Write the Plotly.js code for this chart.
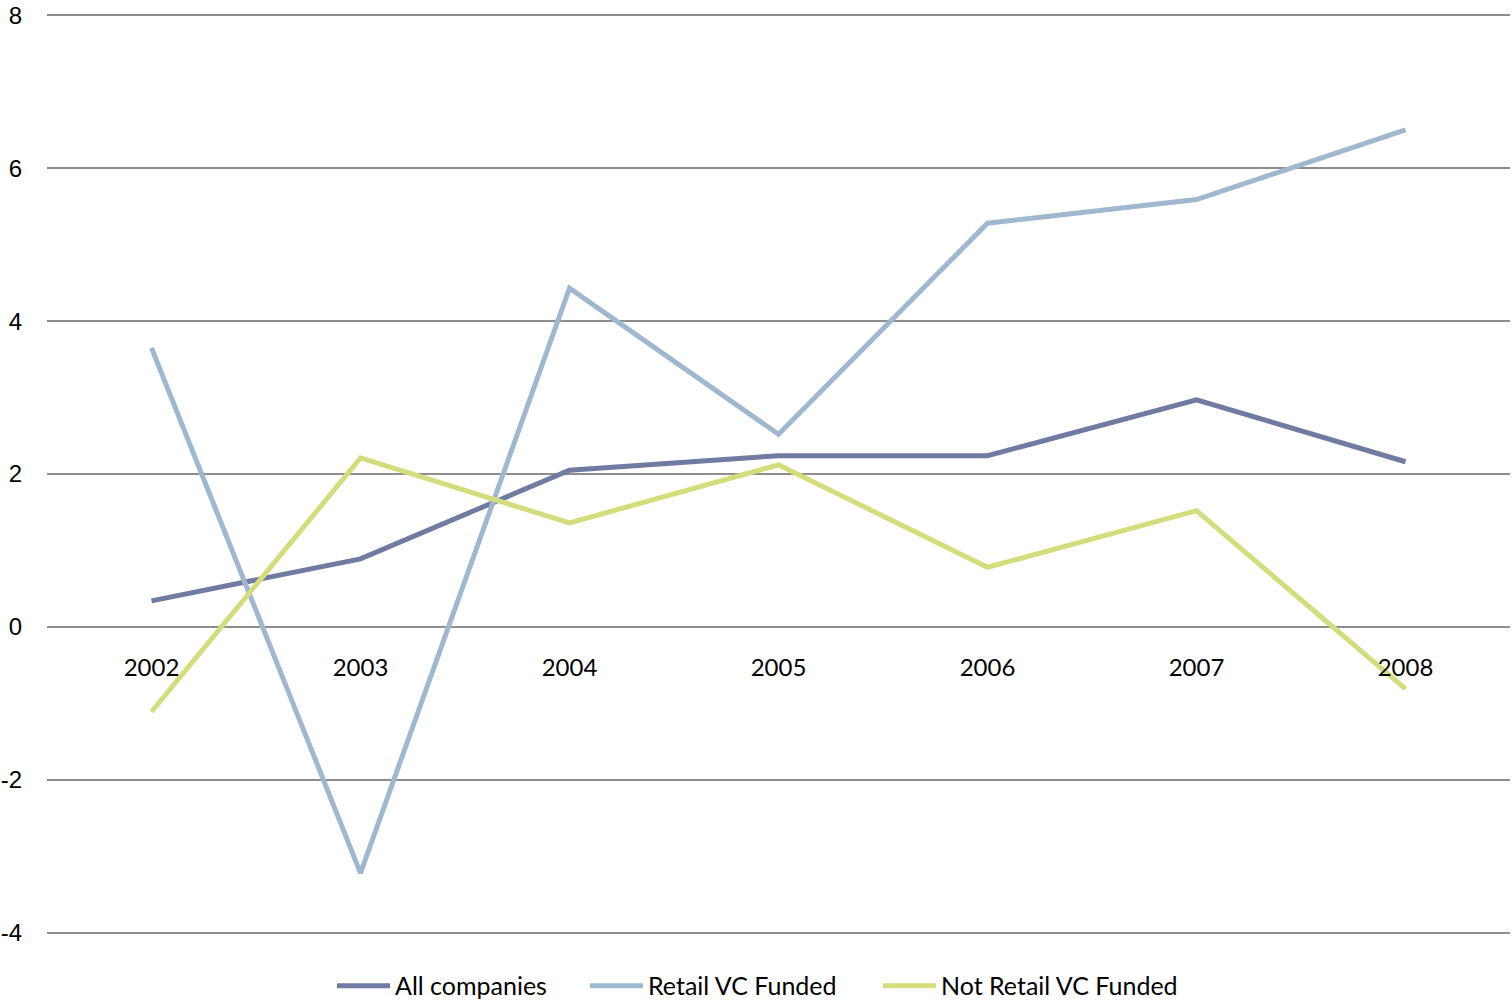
<!DOCTYPE html>
<html>
<head>
<meta charset="utf-8">
<script src="https://cdn.plot.ly/plotly-3.0.1.min.js"></script>
<style>
  html, body { margin: 0; padding: 0; background: #fff; }
  #chart { width: 1512px; height: 1005px; }
</style>
</head>
<body>
<div id="chart"></div>
<script>
// Annual growth by company group, 2002–2008
const years = ['2002', '2003', '2004', '2005', '2006', '2007', '2008'];
const allCompanies = [0.34, 0.89, 2.05, 2.24, 2.24, 2.97, 2.16];
const retailVCFunded = [3.65, -3.22, 4.43, 2.52, 5.28, 5.59, 6.50];
const notRetailVCFunded = [-1.11, 2.21, 1.36, 2.12, 0.78, 1.52, -0.81];

const yTicks = [-4, -2, 0, 2, 4, 6, 8];

function series(name, values, color, legendId) {
  return {
    type: 'scatter',
    mode: 'lines',
    name: name,
    x: years,
    y: values,
    line: { color: color, width: 5 },
    legend: legendId,
    hoverinfo: 'x+y+name'
  };
}

const traces = [
  series('All companies', allCompanies, '#6f7ba2', 'legend'),
  series('Retail VC Funded', retailVCFunded, '#9fb8d0', 'legend2'),
  series('Not Retail VC Funded', notRetailVCFunded, '#d3dd7b', 'legend3')
];

// a little padding so the outer gridlines at -4 and 8 are still drawn
const pad = 0.03;
const yMin = -4 - pad, yMax = 8 + pad;

// one legend box per series, laid out along the bottom
function legendAt(px) {
  return {
    orientation: 'h',
    xref: 'container',
    yref: 'container',
    x: px / 1512,
    xanchor: 'left',
    y: 0.019,
    yanchor: 'middle',
    font: { family: 'Lato, sans-serif', size: 25, color: '#000' },
    itemwidth: 53,
    bgcolor: 'rgba(0,0,0,0)'
  };
}

const layout = {
  width: 1512,
  height: 1005,
  margin: { l: 47, r: 2, t: 13, b: 70 },
  paper_bgcolor: '#ffffff',
  plot_bgcolor: '#ffffff',
  showlegend: true,
  legend: legendAt(332),
  legend2: legendAt(585),
  legend3: legendAt(878),
  xaxis: {
    type: 'category',
    anchor: 'free',
    // the category axis crosses the value axis at zero
    position: (0 - yMin) / (yMax - yMin),
    showgrid: false,
    showline: false,
    zeroline: false,
    ticks: '',
    ticklabelstandoff: 24,
    tickfont: { family: 'Lato, sans-serif', size: 24, color: '#000' },
    range: [-0.5, 6.5]
  },
  yaxis: {
    range: [yMin, yMax],
    tickvals: yTicks,
    ticktext: yTicks.map(String),
    showgrid: true,
    gridcolor: '#8e8e8e',
    gridwidth: 2,
    zeroline: true,
    zerolinecolor: '#8e8e8e',
    zerolinewidth: 2,
    showline: false,
    ticks: '',
    ticklabelstandoff: 24,
    tickfont: { family: 'Liberation Sans, Arial, sans-serif', size: 24, color: '#000' }
  }
};

Plotly.newPlot('chart', traces, layout, { displayModeBar: false });
</script>
</body>
</html>
